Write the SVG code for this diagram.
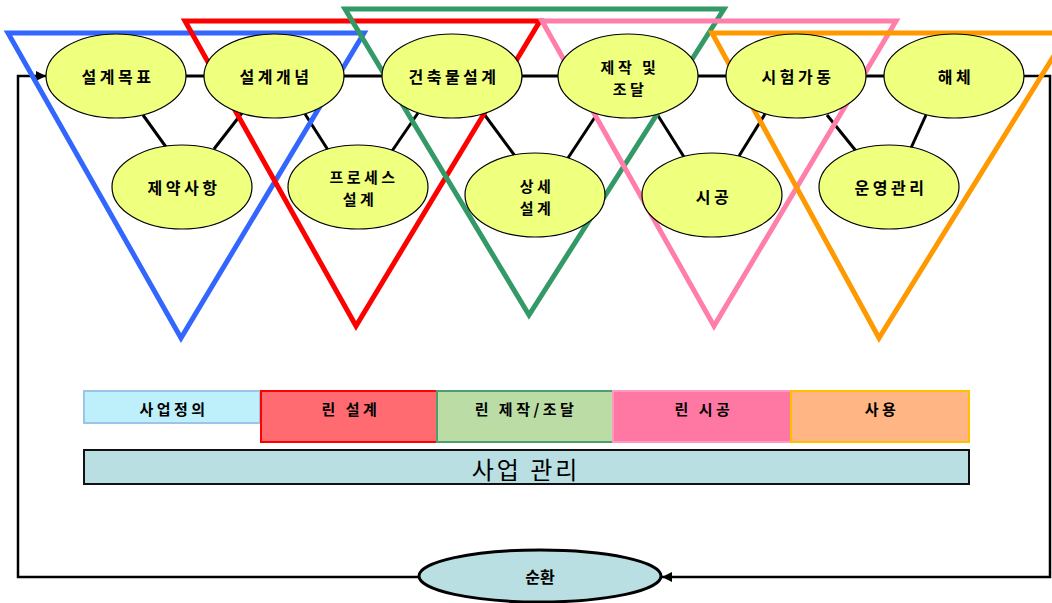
<svg xmlns="http://www.w3.org/2000/svg" width="1052" height="603" viewBox="0 0 1052 603">
<defs>
<marker id="arr" viewBox="0 0 10 10" refX="10" refY="5" markerWidth="11" markerHeight="10" orient="auto" markerUnits="userSpaceOnUse">
<path d="M0,0 L10,5 L0,10 z" fill="#000"/>
</marker>
<style>
.tri{fill:none;stroke-width:5;stroke-linejoin:miter}
.node ellipse{fill:#EFFF7E;stroke:#000;stroke-width:1.2}
.t{font-family:"Noto Sans CJK KR","Noto Sans",sans-serif;font-weight:bold;font-size:16px;letter-spacing:3.5px;text-anchor:middle;dominant-baseline:central;fill:#000}
.t2{font-family:"Noto Sans CJK KR","Noto Sans",sans-serif;font-weight:bold;font-size:15px;letter-spacing:3.5px;text-anchor:middle;dominant-baseline:central;fill:#000}
.bt{font-family:"Noto Sans CJK KR","Noto Sans",sans-serif;font-weight:bold;font-size:15px;letter-spacing:3.5px;text-anchor:middle;dominant-baseline:central;fill:#000}
.ln{stroke:#000;stroke-width:3;fill:none}
.fl{stroke:#000;stroke-width:2.5;fill:none}
</style>
</defs>
<rect width="1052" height="603" fill="#fff"/>

<g id="connectors">
<polyline class="fl" points="418,577 18,577 18,76 46,76" marker-end="url(#arr)"/>
<polyline class="fl" points="1024,76 1050,76 1050,577 662,577" marker-end="url(#arr)"/>
<line class="ln" x1="186" y1="76" x2="205" y2="76"/>
<line class="ln" x1="344" y1="76" x2="382" y2="76"/>
<line class="ln" x1="522" y1="76" x2="558" y2="76"/>
<line class="ln" x1="698" y1="76" x2="726" y2="76"/>
<line class="ln" x1="866" y1="76" x2="885" y2="76"/>
<line class="ln" x1="143" y1="115" x2="166" y2="147"/>
<line class="ln" x1="242" y1="113" x2="214" y2="149"/>
<line class="ln" x1="305" y1="114" x2="328" y2="150"/>
<line class="ln" x1="418" y1="113" x2="392" y2="151"/>
<line class="ln" x1="484" y1="114" x2="515" y2="156"/>
<line class="ln" x1="597" y1="114" x2="568" y2="158"/>
<line class="ln" x1="657" y1="114" x2="684" y2="157"/>
<line class="ln" x1="765" y1="114" x2="739" y2="156"/>
<line class="ln" x1="827" y1="115" x2="856" y2="151"/>
<line class="ln" x1="926" y1="115" x2="911" y2="148"/>
</g>

<g id="triangles">
<polygon class="tri" stroke="#3366FF" points="8,33 364,33 181,338"/>
<polygon class="tri" stroke="#FF0000" points="185,21 540,21 356,326"/>
<polygon class="tri" stroke="#339966" points="345,9 724,9 529,315"/>
<polygon class="tri" stroke="#FF7FAA" points="542,21 896,21 714,326"/>
<polygon class="tri" stroke="#FF9900" points="712,33 1068,33 879,338"/>
</g>

<g id="n-goal" class="node"><ellipse cx="116" cy="76" rx="70" ry="42"/><text class="t" x="118" y="76">설계목표</text></g>
<g id="n-concept" class="node"><ellipse cx="274" cy="76" rx="70" ry="42"/><text class="t" x="276" y="76">설계개념</text></g>
<g id="n-building" class="node"><ellipse cx="452" cy="76" rx="70" ry="42"/><text class="t" x="454" y="76">건축물설계</text></g>
<g id="n-procure" class="node"><ellipse cx="628" cy="76" rx="70" ry="42"/><text class="t2" x="630" y="66">제작 및</text><text class="t2" x="630" y="88">조달</text></g>
<g id="n-test" class="node"><ellipse cx="796" cy="76" rx="70" ry="42"/><text class="t" x="798" y="76">시험가동</text></g>
<g id="n-demolish" class="node"><ellipse cx="954" cy="76" rx="70" ry="42"/><text class="t" x="956" y="76">해체</text></g>

<g id="n-constraint" class="node"><ellipse cx="182" cy="187" rx="70" ry="42"/><text class="t" x="184" y="187">제약사항</text></g>
<g id="n-process" class="node"><ellipse cx="358" cy="187" rx="70" ry="42"/><text class="t2" x="364" y="176">프로세스</text><text class="t2" x="360" y="198">설계</text></g>
<g id="n-detail" class="node"><ellipse cx="535" cy="195" rx="70" ry="42"/><text class="t2" x="537" y="185">상세</text><text class="t2" x="537" y="207">설계</text></g>
<g id="n-construct" class="node"><ellipse cx="712" cy="195" rx="70" ry="42"/><text class="t" x="714" y="196">시공</text></g>
<g id="n-operate" class="node"><ellipse cx="889" cy="187" rx="70" ry="42"/><text class="t" x="891" y="187">운영관리</text></g>

<g id="phases">
<rect x="84" y="391" width="176" height="32" fill="#BDF0FB" stroke="#9DC3E6" stroke-width="2"/>
<text class="bt" x="174" y="408">사업정의</text>
<rect x="261" y="391" width="176" height="51" fill="#FF6B70" stroke="#FF0000" stroke-width="2"/>
<text class="bt" x="351" y="408">린 설계</text>
<rect x="437" y="391" width="176" height="51" fill="#BBDDA5" stroke="#4E9E6E" stroke-width="2"/>
<text class="bt" x="526" y="408">린 제작/조달</text>
<rect x="613" y="391" width="178" height="51" fill="#FF77A3" stroke="#FF99C0" stroke-width="2"/>
<text class="bt" x="704" y="408">린 시공</text>
<rect x="791" y="391" width="178" height="51" fill="#FFB584" stroke="#FFC000" stroke-width="2"/>
<text class="bt" x="882" y="408">사용</text>
</g>

<g id="mgmt">
<rect x="84" y="450" width="885" height="34" fill="#B9DFE3" stroke="#111" stroke-width="2"/>
<text x="526" y="468" font-family="'Noto Sans CJK KR','Noto Sans',sans-serif" font-size="24" letter-spacing="3" text-anchor="middle" dominant-baseline="central" fill="#000">사업 관리</text>
</g>

<g id="n-cycle">
<ellipse cx="540" cy="576" rx="121" ry="26" fill="#B9DFE3" stroke="#000" stroke-width="3"/>
<text x="540" y="576" font-family="'Noto Sans CJK KR','Noto Sans',sans-serif" font-weight="bold" font-size="16" text-anchor="middle" dominant-baseline="central" fill="#000">순환</text>
</g>
</svg>
